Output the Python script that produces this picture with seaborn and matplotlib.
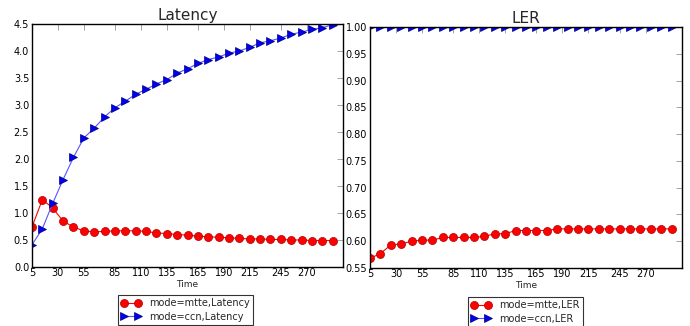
import matplotlib
matplotlib.use("Agg")
import matplotlib.pyplot as plt
import seaborn as sns
import pandas as pd

time = [5, 15, 25, 35, 45, 55, 65, 75, 85, 95, 105, 115, 125, 135, 145,
        155, 165, 175, 185, 195, 205, 215, 225, 235, 245, 255, 265, 275, 285, 295]
xtick_labels = [5, 30, 55, 85, 110, 135, 165, 190, 215, 245, 270]

latency_mtte = [0.74, 1.25, 1.09, 0.85, 0.74, 0.67, 0.65, 0.66, 0.67, 0.67,
                0.67, 0.66, 0.63, 0.62, 0.60, 0.59, 0.57, 0.56, 0.55, 0.54,
                0.53, 0.52, 0.52, 0.51, 0.51, 0.50, 0.50, 0.49, 0.49, 0.49]
latency_ccn = [0.41, 0.71, 1.18, 1.62, 2.03, 2.39, 2.57, 2.78, 2.95, 3.07,
               3.20, 3.29, 3.39, 3.47, 3.59, 3.67, 3.77, 3.84, 3.89, 3.96,
               4.00, 4.07, 4.15, 4.19, 4.24, 4.31, 4.35, 4.40, 4.43, 4.49]
ler_mtte = [0.568, 0.577, 0.593, 0.595, 0.600, 0.602, 0.602, 0.607, 0.607, 0.607,
            0.607, 0.609, 0.614, 0.614, 0.620, 0.620, 0.620, 0.620, 0.623, 0.623,
            0.623, 0.623, 0.623, 0.623, 0.623, 0.623, 0.623, 0.623, 0.623, 0.623]
ler_ccn = [1.0] * 30

sns.set_style("white")
plt.rcParams['font.family'] = ['DejaVu Sans']
plt.rcParams.update({
    'xtick.direction': 'in', 'ytick.direction': 'in',
    'xtick.top': True, 'ytick.right': True,
    'xtick.major.size': 4, 'ytick.major.size': 4,
    'xtick.major.width': 0.5, 'ytick.major.width': 0.5,
    'xtick.color': '#808080', 'ytick.color': '#808080',
    'xtick.labelcolor': 'black', 'ytick.labelcolor': 'black',
    'axes.edgecolor': 'black', 'axes.linewidth': 1.0,
})

fig = plt.figure(figsize=(6.9, 3.26), dpi=100)
ax1 = fig.add_axes([32/690, 1-267/326, 311/690, 243/326])
ax2 = fig.add_axes([370/690, 1-268/326, 312/690, 241/326])

df1 = pd.DataFrame({'time': time, 'mtte': latency_mtte, 'ccn': latency_ccn})
df2 = pd.DataFrame({'time': time, 'mtte': ler_mtte, 'ccn': ler_ccn})

def draw(ax, df, name, ylim, yticks, yfmt, title, leg_anchor):
    sns.lineplot(data=df, x='time', y='mtte', ax=ax, color='red', marker='o',
                 markersize=5.8, markeredgecolor='#aa0000', markeredgewidth=0.5,
                 linewidth=0.8, label='mode=mtte,' + name)
    sns.lineplot(data=df, x='time', y='ccn', ax=ax, color='#0000ee', marker='>',
                 markersize=5.2, markeredgecolor='#000080', markeredgewidth=0.5,
                 linewidth=0.8, label='mode=ccn,' + name)
    ax.get_lines()[1].set_color('#5555ff')
    ax.get_lines()[1].set_markerfacecolor('#0000ee')
    ax.set_xlim(5, 305)
    ax.set_ylim(*ylim)
    ax.set_xticks(xtick_labels)
    ax.set_xticklabels([str(v) for v in xtick_labels], fontsize=7)
    ax.set_yticks(yticks)
    ax.set_yticklabels([yfmt.format(v) for v in yticks], fontsize=7)
    ax.tick_params(axis='x', pad=1)
    ax.tick_params(axis='y', pad=2)
    ax.set_xlabel('Time', fontsize=6.5, labelpad=1)
    ax.set_ylabel('')
    ax.set_title(title, fontsize=11, pad=3)
    leg = ax.legend(loc='upper left', bbox_to_anchor=leg_anchor,
                    bbox_transform=fig.transFigure, numpoints=2, fontsize=7,
                    frameon=True, fancybox=False, edgecolor='black',
                    borderpad=0.35, labelspacing=0.35, handlelength=2.0,
                    handletextpad=0.8, borderaxespad=0)
    leg.get_frame().set_linewidth(0.8)

draw(ax1, df1, 'Latency', (0, 4.5), [0.0, 0.5, 1.0, 1.5, 2.0, 2.5, 3.0, 3.5, 4.0, 4.5],
     '{:.1f}', 'Latency', (118/690, 1-295/326))
draw(ax2, df2, 'LER', (0.55, 1.0),
     [0.55, 0.60, 0.65, 0.70, 0.75, 0.80, 0.85, 0.90, 0.95, 1.00],
     '{:.2f}', 'LER', (468/690, 1-297/326))

fig.savefig('out.png', dpi=100)
